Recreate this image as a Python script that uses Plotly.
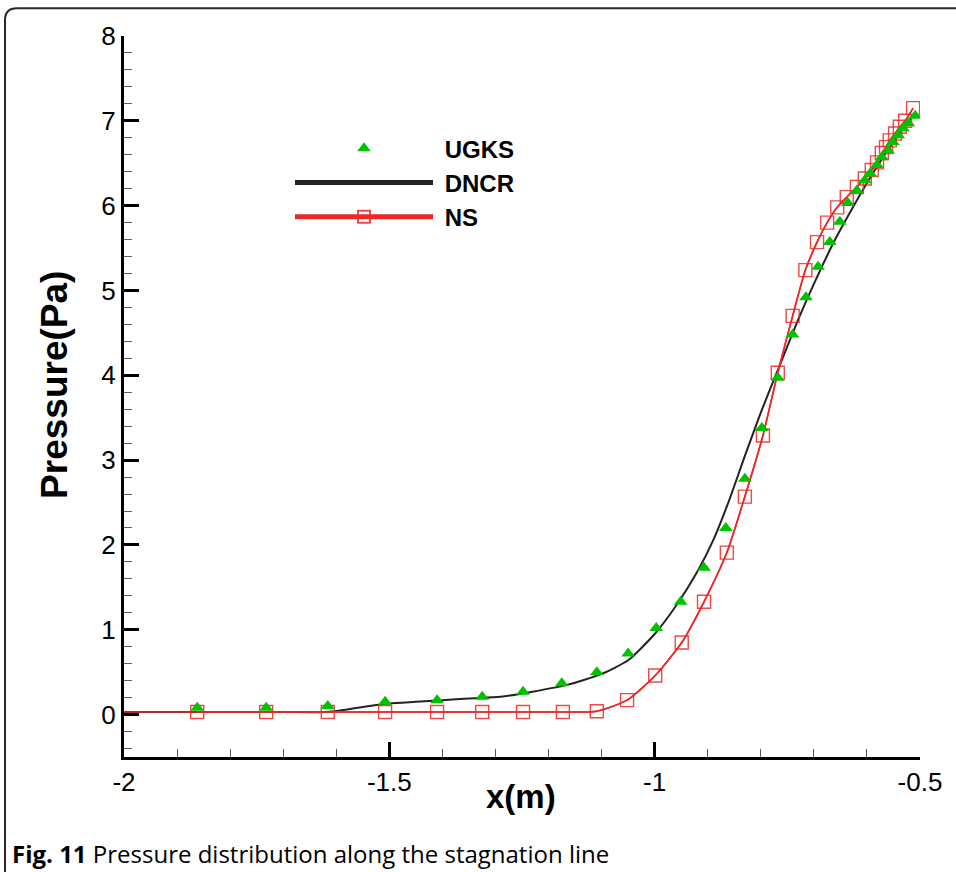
import plotly.graph_objects as go

# ---- data -------------------------------------------------------------
# UGKS (triangles)
ugks_x = [-1.862, -1.732, -1.616, -1.508, -1.410, -1.325, -1.248, -1.175, -1.109,
          -1.050, -0.997, -0.951, -0.907, -0.866, -0.830, -0.798, -0.768, -0.740,
          -0.715, -0.692, -0.670, -0.651, -0.636, -0.619, -0.604, -0.594, -0.581,
          -0.572, -0.560, -0.551, -0.541, -0.532, -0.522, -0.509]
ugks_y = [0.08, 0.08, 0.10, 0.15, 0.17, 0.21, 0.27, 0.37, 0.50,
          0.72, 1.02, 1.33, 1.73, 2.20, 2.78, 3.38, 3.97, 4.48,
          4.92, 5.28, 5.57, 5.81, 6.03, 6.18, 6.30, 6.38, 6.48,
          6.57, 6.65, 6.75, 6.83, 6.91, 6.97, 7.06]

# DNCR (solid black curve)
dncr_x = [-2.0, -1.70, -1.62, -1.59, -1.55, -1.50, -1.45, -1.40, -1.35, -1.29,
          -1.23, -1.165, -1.10, -1.05, -1.00, -0.96, -0.92, -0.89, -0.86,
          -0.83, -0.80, -0.77, -0.75, -0.73, -0.71, -0.685, -0.66, -0.632,
          -0.594, -0.557, -0.51]
dncr_y = [0.03, 0.03, 0.03, 0.05, 0.09, 0.13, 0.15, 0.17, 0.19, 0.21,
          0.27, 0.35, 0.48, 0.64, 0.95, 1.28, 1.68, 2.05, 2.52,
          3.05, 3.56, 4.03, 4.34, 4.65, 4.94, 5.28, 5.60, 5.92,
          6.33, 6.69, 7.09]

# NS (red line with open squares); the line starts at the left edge x = -2
ns_start_x = -2.0
ns_start_y = 0.03
ns_x = [-1.862, -1.732, -1.616, -1.508, -1.410, -1.325, -1.248, -1.173, -1.109,
        -1.052, -0.999, -0.949, -0.907, -0.864, -0.830, -0.796, -0.768, -0.740,
        -0.716, -0.694, -0.675, -0.656, -0.638, -0.619, -0.604, -0.591, -0.581,
        -0.572, -0.564, -0.557, -0.547, -0.538, -0.528, -0.513]
ns_y = [0.03, 0.03, 0.03, 0.03, 0.03, 0.03, 0.03, 0.03, 0.04,
        0.17, 0.46, 0.85, 1.33, 1.91, 2.57, 3.29, 4.03, 4.70,
        5.24, 5.57, 5.80, 5.98, 6.10, 6.22, 6.32, 6.42, 6.51,
        6.62, 6.69, 6.77, 6.85, 6.93, 7.00, 7.15]

x_ticks = [-2, -1.5, -1, -0.5]
x_tick_text = ["-2", "-1.5", "-1", "-0.5"]
y_ticks = [0, 1, 2, 3, 4, 5, 6, 7, 8]

# ---- page geometry ----------------------------------------------------
W, H = 956, 872
L, R, T, B = 124, 920, 35.7, 757.5   # plot area edges in page pixels


def px(xp):
    return (xp - L) / (R - L)


def py(yp):
    return (B - yp) / (B - T)


FONT = "Liberation Sans, Arial, sans-serif"
RED = "rgb(235,40,40)"
GREEN = "rgb(0,195,0)"
GAP = "\u00a0"

fig = go.Figure()

fig.add_trace(go.Scatter(
    x=dncr_x, y=dncr_y, mode="lines", name=GAP + "DNCR",
    line=dict(color="rgb(35,35,35)", width=2, shape="spline", smoothing=0.6),
    legendrank=2,
))
fig.add_trace(go.Scatter(
    x=[ns_start_x] + ns_x, y=[ns_start_y] + ns_y, mode="lines",
    line=dict(color=RED, width=1.6, shape="spline", smoothing=0.6),
    showlegend=False, hoverinfo="skip",
))
fig.add_trace(go.Scatter(
    x=ns_x, y=ns_y, mode="lines+markers", name=GAP + "NS",
    line=dict(color=RED, width=1.6, shape="spline", smoothing=0.6),
    marker=dict(symbol="square-open", size=13, color="rgba(235,40,40,0.85)",
                line=dict(width=1.4)),
    legendrank=3,
))
fig.add_trace(go.Scatter(
    x=ugks_x, y=ugks_y, mode="markers", name=GAP + "UGKS",
    marker=dict(symbol="triangle-up", size=12, color=GREEN, line=dict(width=0)),
    legendrank=1,
))

axis_common = dict(
    showgrid=False, zeroline=False, showline=True, linecolor="black",
    linewidth=3, ticks="inside", tickcolor="black", tickwidth=3, ticklen=15,
    tickfont=dict(family=FONT, size=26, color="black"), mirror=False,
)

fig.update_xaxes(
    range=[-2, -0.5], tickvals=x_ticks, ticktext=x_tick_text,
    minor=dict(dtick=0.1, ticks="inside", ticklen=8, tickwidth=1,
               tickcolor="rgb(90,90,90)"),
    **axis_common,
)
fig.update_yaxes(
    range=[-0.5, 8], tickvals=y_ticks,
    minor=dict(dtick=0.2, ticks="inside", ticklen=8, tickwidth=1,
               tickcolor="rgb(90,90,90)"),
    **axis_common,
)

# Figure frame with a rounded top-left corner
r = 12
frame = (f"M{px(5)},{py(880)} L{px(5)},{py(8 + r)} "
         f"Q{px(5)},{py(8)} {px(5 + r)},{py(8)} L{px(970)},{py(8)}")

fig.update_layout(
    width=W, height=H,
    margin=dict(l=L, r=W - R, t=T, b=H - B, pad=0),
    paper_bgcolor="white", plot_bgcolor="white",
    showlegend=True,
    legend=dict(
        x=px(290), y=py(126), xanchor="left", yanchor="top",
        font=dict(family=FONT, size=24, color="black", weight="bold"),
        bgcolor="rgba(0,0,0,0)", itemwidth=138, tracegroupgap=0,
        itemsizing="constant",
    ),
    shapes=[dict(type="path", xref="paper", yref="paper", path=frame,
                 line=dict(color="rgb(40,40,40)", width=2))],
    annotations=[
        dict(xref="paper", yref="paper", x=px(521), y=py(797),
             xanchor="center", yanchor="middle", showarrow=False,
             text="<b>x(m)</b>",
             font=dict(family=FONT, size=33, color="black")),
        dict(xref="paper", yref="paper", x=px(55), y=py(385),
             xanchor="center", yanchor="middle", showarrow=False,
             textangle=-90, text="<b>Pressure(Pa)</b>",
             font=dict(family=FONT, size=37, color="black")),
        dict(xref="paper", yref="paper", x=px(10), y=py(854),
             xanchor="left", yanchor="middle", showarrow=False,
             text="<b>Fig. 11</b> Pressure distribution along the stagnation line",
             font=dict(family="Open Sans, sans-serif", size=24, color="black")),
    ],
)

fig.write_html("out.html")
